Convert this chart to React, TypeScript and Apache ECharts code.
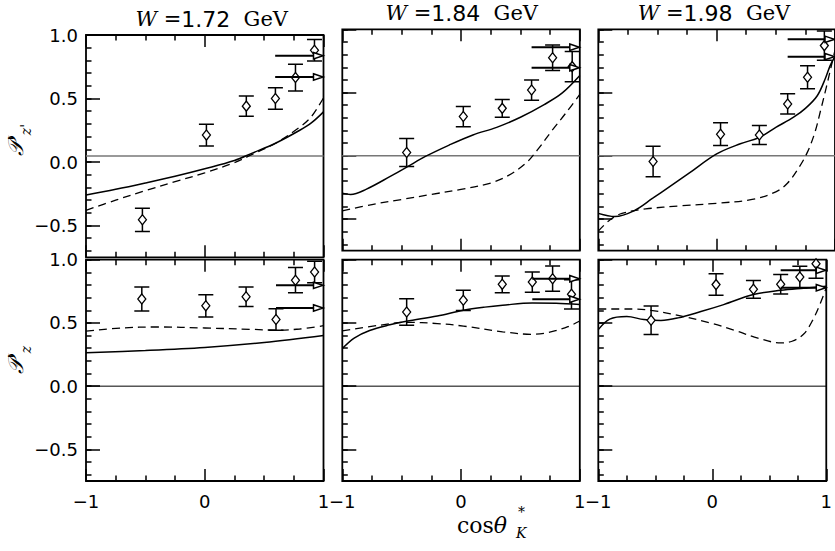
import React, { useEffect, useRef } from "react";
import * as echarts from "echarts";

// ---------- axis ticks ----------
const yMajorTicks = [-0.5, 0, 0.5, 1.0];
const yMinorTicks = [-0.7, -0.6, -0.5, -0.4, -0.3, -0.2, -0.1, 0, 0.1, 0.2, 0.3, 0.4, 0.5, 0.6, 0.7, 0.8, 0.9, 1.0];
const energies = ["1.72", "1.84", "1.98"];

// ---------- data: [cos theta, value, error] ----------
// Row 1: P'_{z'}
const pzp172Points = [[-0.525, -0.455, 0.092], [0.014, 0.212, 0.086], [0.35, 0.44, 0.08], [0.595, 0.5, 0.084], [0.764, 0.665, 0.105], [0.924, 0.88, 0.085]];
const pzp172Arrows = [[0.593, 0.837], [0.593, 0.67]];
const pzp172Solid = [[-1, -0.26], [-0.75, -0.215], [-0.5, -0.165], [-0.25, -0.112], [0, -0.053], [0.25, 0.012], [0.4, 0.07], [0.6, 0.15], [0.8, 0.25], [0.9, 0.31], [1, 0.395]];
const pzp172Dashed = [[-1, -0.38], [-0.75, -0.3], [-0.5, -0.225], [-0.25, -0.155], [0, -0.085], [0.25, -0.005], [0.4, 0.06], [0.6, 0.15], [0.8, 0.275], [0.9, 0.36], [1, 0.505]];

const pzp184Points = [[-0.458, 0.026, 0.11], [0.019, 0.31, 0.08], [0.347, 0.375, 0.07], [0.594, 0.52, 0.08], [0.771, 0.775, 0.1], [0.936, 0.705, 0.12]];
const pzp184Arrows = [[0.594, 0.858], [0.594, 0.697]];
const pzp184Solid = [[-1, -0.295], [-0.93, -0.305], [-0.8, -0.265], [-0.6, -0.165], [-0.45, -0.085], [-0.3, -0.005], [-0.1, 0.085], [0.1, 0.165], [0.3, 0.225], [0.5, 0.305], [0.7, 0.405], [0.85, 0.495], [1, 0.635]];
const pzp184Dashed = [[-1, -0.435], [-0.75, -0.385], [-0.5, -0.345], [-0.25, -0.305], [0, -0.265], [0.25, -0.215], [0.4, -0.155], [0.55, -0.055], [0.65, 0.055], [0.77, 0.205], [0.88, 0.335], [1, 0.485]];

const pzp198Points = [[-0.537, -0.045, 0.12], [0.033, 0.171, 0.09], [0.361, 0.165, 0.075], [0.6, 0.41, 0.08], [0.768, 0.621, 0.09], [0.91, 0.871, 0.115]];
const pzp198Arrows = [[0.6, 0.921], [0.6, 0.784]];
const pzp198Solid = [[-1, -0.455], [-0.86, -0.48], [-0.7, -0.435], [-0.54, -0.335], [-0.4, -0.245], [-0.23, -0.135], [0, 0.015], [0.2, 0.095], [0.36, 0.145], [0.5, 0.225], [0.65, 0.305], [0.75, 0.375], [0.85, 0.475], [0.92, 0.615], [0.96, 0.715], [1, 0.785]];
const pzp198Dashed = [[-1, -0.595], [-0.9, -0.505], [-0.8, -0.455], [-0.6, -0.42], [-0.3, -0.395], [0, -0.375], [0.3, -0.345], [0.5, -0.285], [0.6, -0.215], [0.7, -0.085], [0.77, 0.035], [0.83, 0.185], [0.88, 0.365], [0.93, 0.555], [0.98, 0.755], [1, 0.835]];

// Row 2: P'_z
const pz172Points = [[-0.53, 0.69, 0.095], [0.009, 0.635, 0.088], [0.348, 0.707, 0.077], [0.6, 0.527, 0.085], [0.764, 0.838, 0.1], [0.925, 0.902, 0.085]];
const pz172Arrows = [[0.6, 0.797], [0.6, 0.618]];
const pz172Solid = [[-1, 0.265], [-0.5, 0.282], [0, 0.306], [0.5, 0.345], [1, 0.4]];
const pz172Dashed = [[-1, 0.435], [-0.7, 0.46], [-0.4, 0.468], [0, 0.46], [0.4, 0.449], [0.6, 0.443], [0.8, 0.452], [1, 0.478]];

const pz184Points = [[-0.458, 0.587, 0.105], [0.019, 0.679, 0.08], [0.347, 0.805, 0.066], [0.6, 0.823, 0.08], [0.771, 0.85, 0.1], [0.93, 0.726, 0.115]];
const pz184Arrows = [[0.6, 0.85], [0.6, 0.687]];
const pz184Solid = [[-1, 0.297], [-0.9, 0.38], [-0.77, 0.44], [-0.6, 0.485], [-0.46, 0.513], [-0.2, 0.555], [0.02, 0.6], [0.2, 0.625], [0.35, 0.64], [0.6, 0.658], [0.8, 0.655], [1, 0.645]];
const pz184Dashed = [[-1, 0.437], [-0.7, 0.48], [-0.46, 0.505], [-0.2, 0.495], [0.02, 0.475], [0.35, 0.43], [0.59, 0.41], [0.7, 0.418], [0.8, 0.44], [0.9, 0.47], [1, 0.515]];

const pz198Points = [[-0.537, 0.521, 0.113], [0.033, 0.803, 0.085], [0.361, 0.766, 0.07], [0.6, 0.805, 0.077], [0.768, 0.863, 0.085], [0.91, 0.968, 0.115]];
const pz198Arrows = [[0.6, 0.916], [0.6, 0.779]];
const pz198Solid = [[-1, 0.447], [-0.9, 0.53], [-0.75, 0.55], [-0.6, 0.527], [-0.45, 0.52], [-0.3, 0.54], [-0.1, 0.59], [0.1, 0.645], [0.36, 0.724], [0.6, 0.758], [0.8, 0.775], [1, 0.79]];
const pz198Dashed = [[-1, 0.61], [-0.7, 0.61], [-0.54, 0.6], [-0.3, 0.56], [0, 0.495], [0.2, 0.44], [0.4, 0.38], [0.6, 0.342], [0.7, 0.355], [0.8, 0.41], [0.88, 0.52], [0.95, 0.66], [1, 0.78]];

// horizontal reference line values per panel
const refLineValues = [0.047, 0, 0, 0, 0, 0];

const panels = [
  { points: pzp172Points, arrows: pzp172Arrows, solid: pzp172Solid, dashed: pzp172Dashed },
  { points: pzp184Points, arrows: pzp184Arrows, solid: pzp184Solid, dashed: pzp184Dashed },
  { points: pzp198Points, arrows: pzp198Arrows, solid: pzp198Solid, dashed: pzp198Dashed },
  { points: pz172Points, arrows: pz172Arrows, solid: pz172Solid, dashed: pz172Dashed },
  { points: pz184Points, arrows: pz184Arrows, solid: pz184Solid, dashed: pz184Dashed },
  { points: pz198Points, arrows: pz198Arrows, solid: pz198Solid, dashed: pz198Dashed },
];

// layout (pixels)
const colLeft = [86, 342.3, 598.3];
const colWidth = 237.5;
const rowTop = [[35, 29.3, 29.3], [259.7, 259.7, 259.7]];
const rowHeight = [[222.3, 221.4, 221.4], [221.3, 221.3, 221.3]];

const NUM = "DejaVu Sans";
const SERIF = "DejaVu Serif";
const SANS = "DejaVu Sans";

const fmtY = (v: number) => (v < 0 ? "\u2212" : "") + Math.abs(v).toFixed(1);
const fmtX = (v: number) => (v < 0 ? "\u2212" : "") + String(Math.abs(v));

const tickStyle = { color: "#000", width: 1.5 };

const errRender = (_p: any, api: any) => {
  const x = api.value(0), y = api.value(1), e = api.value(2);
  const a = api.coord([x, y + e]);
  const b = api.coord([x, y - e]);
  const w = 7.5;
  const st = { stroke: "#000", lineWidth: 1.5 };
  return {
    type: "group",
    children: [
      { type: "line", shape: { x1: a[0], y1: a[1], x2: b[0], y2: b[1] }, style: st },
      { type: "line", shape: { x1: a[0] - w, y1: a[1], x2: a[0] + w, y2: a[1] }, style: st },
      { type: "line", shape: { x1: b[0] - w, y1: b[1], x2: b[0] + w, y2: b[1] }, style: st },
    ],
  };
};

const arrowRender = (_p: any, api: any) => {
  const x0 = api.value(0), y = api.value(1);
  const a = api.coord([x0, y]);
  const b = api.coord([1, y]);
  const L = 10, H = 3.2;
  return {
    type: "group",
    children: [
      { type: "line", shape: { x1: a[0], y1: a[1], x2: b[0] - L, y2: b[1] }, style: { stroke: "#000", lineWidth: 2 } },
      {
        type: "polygon",
        shape: { points: [[b[0] - L, b[1] - H], [b[0] - 0.5, b[1]], [b[0] - L, b[1] + H]] },
        style: { fill: "#fff", stroke: "#000", lineWidth: 1.5 },
      },
    ],
  };
};

function buildOption() {
  const grid: any[] = [];
  const xAxis: any[] = [];
  const yAxis: any[] = [];
  const series: any[] = [];

  panels.forEach((p, i) => {
    const row = Math.floor(i / 3);
    const col = i % 3;
    grid.push({
      left: colLeft[col],
      top: rowTop[row][col],
      width: colWidth,
      height: rowHeight[row][col],
      show: true,
      borderColor: "#000",
      borderWidth: 1.8,
      backgroundColor: "transparent",
      containLabel: false,
    });
    const xBase = {
      gridIndex: i,
      type: "value",
      min: -1,
      max: 1,
      interval: 1,
      axisLine: { show: false, onZero: false },
      splitLine: { show: false },
      minorSplitLine: { show: false },
      axisTick: { show: true, inside: true, length: 12, lineStyle: tickStyle },
      minorTick: { show: true, splitNumber: 4, length: 5.5, lineStyle: tickStyle },
    };
    xAxis.push({
      ...xBase,
      position: "bottom",
      axisLabel: {
        show: row === 1,
        margin: 11,
        fontFamily: NUM,
        fontSize: 18,
        color: "#000",
        formatter: fmtX,
      },
    });
    xAxis.push({ ...xBase, position: "top", axisLabel: { show: false } });
    yAxis.push({
      gridIndex: i,
      type: "value",
      min: -0.75,
      max: 1.0,
      position: "left",
      axisLine: { show: false, onZero: false },
      splitLine: { show: false },
      axisTick: { show: true, inside: true, length: 14, lineStyle: tickStyle, customValues: yMajorTicks },
      axisLabel: {
        show: col === 0,
        customValues: yMajorTicks,
        margin: 8,
        fontFamily: NUM,
        fontSize: 18,
        color: "#000",
        formatter: fmtY,
      },
    });
    yAxis.push({
      gridIndex: i,
      type: "value",
      min: -0.75,
      max: 1.0,
      position: "left",
      axisLine: { show: false, onZero: false },
      splitLine: { show: false },
      axisTick: { show: true, inside: true, length: 5.5, lineStyle: tickStyle, customValues: yMinorTicks },
      axisLabel: { show: false },
    });
    const xi = 2 * i;
    const yi = 2 * i;
    series.push({
      type: "line",
      xAxisIndex: xi,
      yAxisIndex: yi,
      data: [[-1, refLineValues[i]], [1, refLineValues[i]]],
      showSymbol: false,
      symbol: "none",
      lineStyle: row === 0 ? { color: "#777", width: 1.6 } : { color: "#000", width: 1 },
      z: 2,
      silent: true,
    });
    series.push({
      type: "line",
      xAxisIndex: xi,
      yAxisIndex: yi,
      data: p.solid,
      smooth: 0.35,
      showSymbol: false,
      symbol: "none",
      lineStyle: { color: "#000", width: 1.5 },
      z: 3,
    });
    series.push({
      type: "line",
      xAxisIndex: xi,
      yAxisIndex: yi,
      data: p.dashed,
      smooth: 0.35,
      showSymbol: false,
      symbol: "none",
      lineStyle: { color: "#000", width: 1.3, type: [8, 5] },
      z: 3,
    });
    series.push({
      type: "custom",
      xAxisIndex: xi,
      yAxisIndex: yi,
      data: p.points,
      encode: { x: 0, y: 1 },
      renderItem: errRender,
      clip: true,
      z: 4,
    });
    series.push({
      type: "scatter",
      xAxisIndex: xi,
      yAxisIndex: yi,
      data: p.points.map((d) => [d[0], d[1]]),
      symbol: "diamond",
      symbolSize: [8, 10],
      itemStyle: { color: "#fff", borderColor: "#000", borderWidth: 1.3, opacity: 1 },
      z: 5,
    });
    series.push({
      type: "custom",
      xAxisIndex: xi,
      yAxisIndex: yi,
      data: p.arrows,
      encode: { x: 0, y: 1 },
      renderItem: arrowRender,
      clip: false,
      z: 6,
    });
  });

  const titleRich = {
    w: { fontFamily: SERIF, fontStyle: "italic", fontSize: 21, color: "#000" },
    s: { fontFamily: SANS, fontSize: 21, color: "#000" },
    n: { fontFamily: NUM, fontSize: 22, color: "#000" },
    g: { fontFamily: SERIF, fontSize: 21, color: "#000" },
  };
  const titleX = [211.7, 461.7, 714];
  const titleY = [19, 13, 13];

  const nameRich = {
    p: { fontFamily: SERIF, fontStyle: "italic", fontSize: 21, color: "#000", padding: [0, 0, 6, 0] },
    s: { fontFamily: SERIF, fontStyle: "italic", fontSize: 14, color: "#000", verticalAlign: "bottom" },
  };

  const graphic: any[] = [
    ...energies.map((e, i) => ({
      type: "text",
      x: titleX[i],
      y: titleY[i],
      style: {
        text: `{w|W}{s| =}{n|${e}}{s|  }{g|GeV}`,
        rich: titleRich,
        align: "center",
        verticalAlign: "middle",
      },
    })),
    {
      type: "text",
      x: 19,
      y: 140,
      rotation: Math.PI / 2,
      style: { text: "{p|\u{1D4AB}'}{s|z'}", rich: nameRich, align: "center", verticalAlign: "middle" },
    },
    {
      type: "text",
      x: 19,
      y: 360,
      rotation: Math.PI / 2,
      style: { text: "{p|\u{1D4AB}'}{s|z}", rich: nameRich, align: "center", verticalAlign: "middle" },
    },
    {
      type: "text",
      x: 457,
      y: 525,
      style: {
        text: "{c|cos}{t|\u03b8}",
        rich: {
          c: { fontFamily: SERIF, fontSize: 22, color: "#000" },
          t: { fontFamily: SERIF, fontStyle: "italic", fontSize: 22, color: "#000" },
        },
        align: "left",
        verticalAlign: "middle",
      },
    },
    {
      type: "text",
      x: 518,
      y: 512,
      style: { text: "*", fontFamily: SERIF, fontSize: 14, fill: "#000", align: "left", verticalAlign: "middle" },
    },
    {
      type: "text",
      x: 516,
      y: 533,
      style: { text: "K", fontFamily: SERIF, fontStyle: "italic", fontSize: 14, fill: "#000", align: "left", verticalAlign: "middle" },
    },
  ];

  return {
    animation: false,
    backgroundColor: "#fff",
    grid,
    xAxis,
    yAxis,
    series,
    graphic,
  };
}

export default function App() {
  const ref = useRef<HTMLDivElement>(null);
  useEffect(() => {
    if (!ref.current) return;
    const chart = echarts.init(ref.current, undefined, { renderer: "svg" });
    chart.setOption(buildOption() as any);
    return () => chart.dispose();
  }, []);
  return (
    <div
      ref={ref}
      style={{ position: "absolute", left: 0, top: 0, width: 835, height: 551, background: "#fff" }}
    />
  );
}
